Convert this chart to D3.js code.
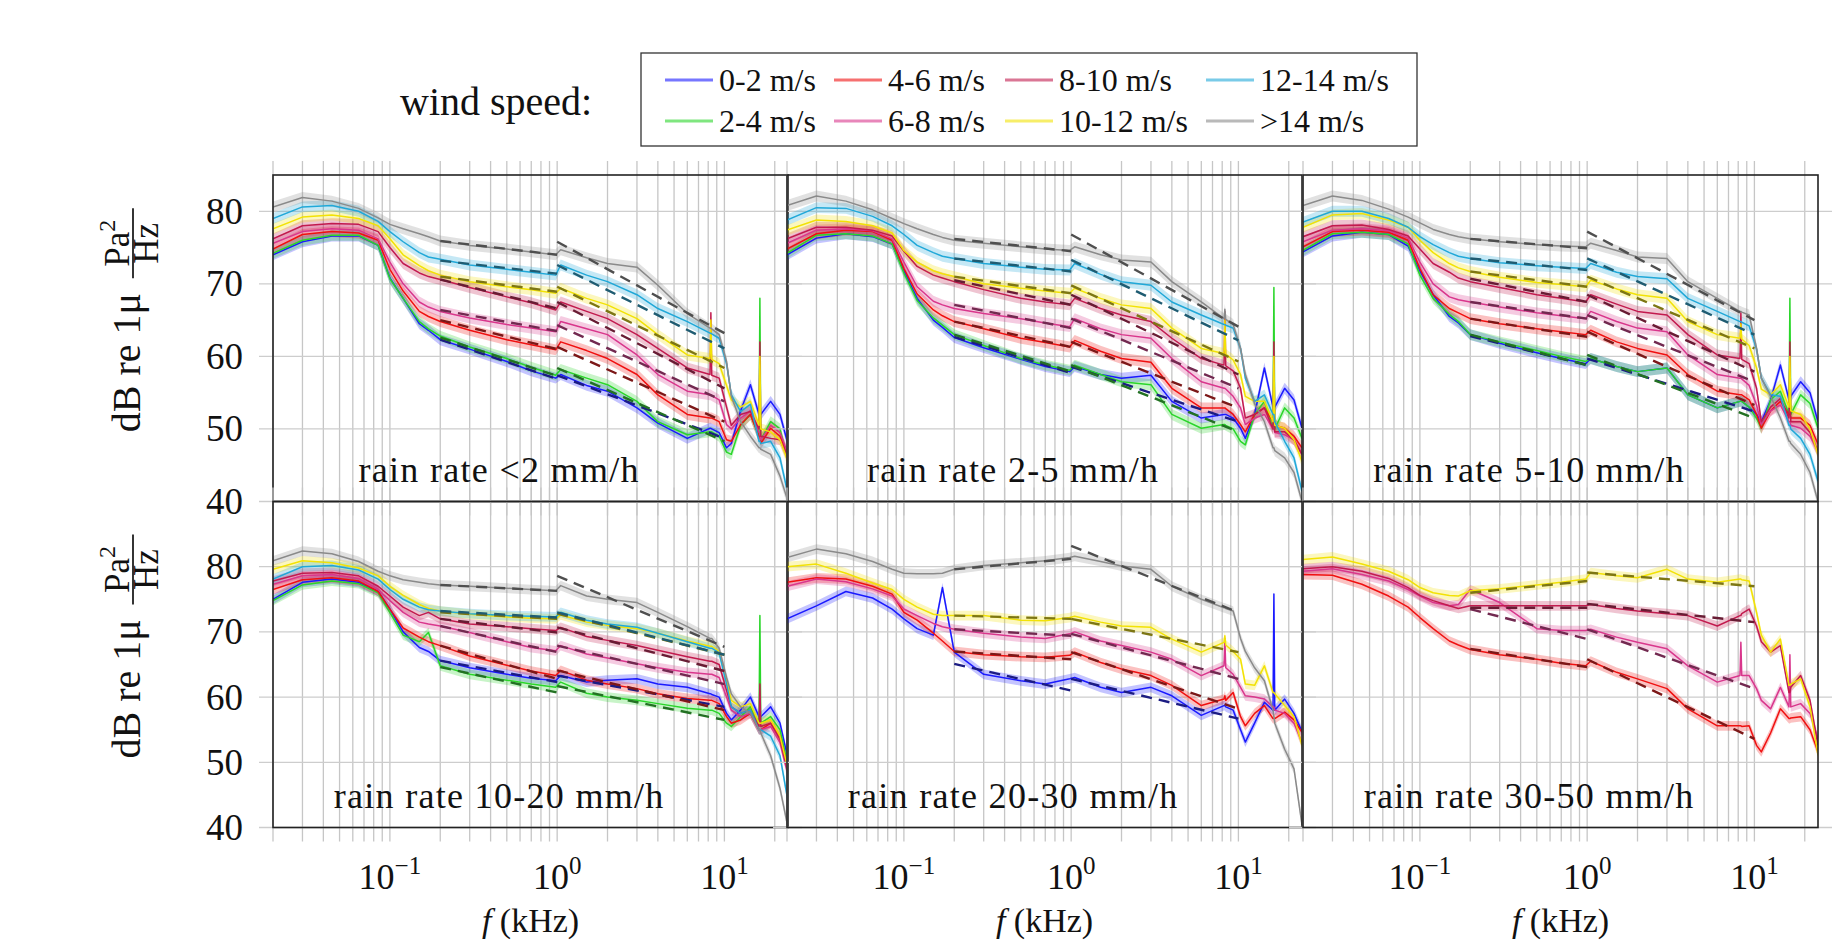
<!DOCTYPE html>
<html>
<head>
<meta charset="utf-8">
<script src="https://cdn.jsdelivr.net/npm/d3@7"></script>
<style>
  body { margin: 0; background: #fff; }
  svg text { font-family: "Liberation Serif", "Times New Roman", serif; fill: #111; }
</style>
</head>
<body>
<svg id="chart" width="1836" height="948" font-family="Liberation Serif, serif"></svg>
<script>
// frequency grid in kHz, shared by every curve
var freqs = [0.02, 0.03, 0.045, 0.065, 0.085, 0.1, 0.12, 0.15, 0.17, 0.2, 0.3, 0.5, 0.7, 0.98, 1.05, 1.5, 2, 3, 4, 6,
             8.2, 8.3, 8.4, 9.3, 10.3, 11, 12.5, 14.3, 16.1, 16.3, 16.5, 18.9, 21.5, 24];

var windLabels = ["0-2 m/s", "2-4 m/s", "4-6 m/s", "6-8 m/s", "8-10 m/s", "10-12 m/s", "12-14 m/s", ">14 m/s"];
var windColors = ["#1a1aff", "#2ad62a", "#f01010", "#d9368c", "#c21a4e", "#f2e205", "#20a8d8", "#8a8a8a"];
var rainLabels = ["rain rate <2 mm/h", "rain rate 2-5 mm/h", "rain rate 5-10 mm/h",
                  "rain rate 10-20 mm/h", "rain rate 20-30 mm/h", "rain rate 30-50 mm/h"];
var yTicks = [40, 50, 60, 70, 80];
var xLabelTicks = [0.1, 1, 10];
var xExponents = ["\u22121", "0", "1"];
var fitRanges = [[0.2, 1], [1, 10]];

// series order follows windLabels; null = no data for that wind class
var rainLt2 = [
  [74.0, 75.8, 76.6, 76.6, 75.3, 70.8, 68.0, 64.5, 63.6, 62.3, 61.0, 59.3, 58.0, 57.0, 57.5, 56.0, 55.2, 52.9, 50.8, 48.7, 50.1, 50.1, 50.0, 49.5, 47.4, 48.0, 52.5, 56.1, 52.0, 52.0, 52.0, 53.8, 52.0, 47.9],
  [74.2, 76.0, 76.7, 76.7, 75.3, 70.7, 68.0, 64.8, 63.8, 62.8, 61.3, 59.7, 58.5, 57.4, 58.2, 57.0, 56.1, 53.8, 51.0, 49.2, 49.6, 49.6, 49.6, 49.0, 46.8, 46.5, 50.5, 52.0, 49.0, 68.0, 48.5, 51.0, 50.0, 45.5],
  [74.8, 76.8, 77.2, 77.0, 76.0, 72.0, 69.0, 66.2, 65.5, 64.8, 63.6, 62.3, 61.6, 60.9, 62.0, 60.8, 59.7, 57.5, 54.7, 52.0, 51.5, 51.5, 51.5, 51.0, 48.5, 48.3, 50.6, 52.0, 49.0, 49.0, 48.0, 50.1, 49.0, 46.5],
  [75.6, 77.2, 77.6, 77.4, 76.2, 73.0, 70.0, 67.5, 66.8, 66.2, 65.3, 64.4, 63.9, 63.4, 64.8, 63.8, 63.0, 60.2, 57.5, 55.2, 54.7, 54.7, 54.6, 54.0, 50.6, 50.0, 51.5, 52.5, 49.5, 49.5, 48.5, 50.5, 49.5, 46.5],
  [76.2, 78.0, 78.3, 78.2, 77.2, 75.0, 72.8, 71.5, 71.0, 70.6, 69.5, 68.2, 67.4, 66.4, 67.5, 66.2, 65.2, 63.0, 61.1, 58.4, 57.5, 66.0, 57.4, 57.0, 53.0, 50.5, 52.0, 52.4, 50.0, 62.0, 49.0, 48.7, 48.5, 46.0],
  [77.6, 79.2, 79.5, 79.0, 78.0, 76.2, 74.0, 72.5, 71.8, 71.2, 70.3, 69.6, 69.2, 68.7, 69.4, 68.0, 67.1, 65.2, 63.0, 60.2, 59.7, 65.0, 59.6, 59.0, 56.0, 54.0, 53.0, 53.8, 50.5, 60.0, 50.0, 49.6, 48.5, 45.5],
  [79.0, 80.6, 80.8, 80.0, 78.6, 77.2, 75.8, 74.3, 73.7, 73.4, 72.6, 72.0, 71.6, 71.2, 72.6, 71.2, 70.3, 68.5, 66.6, 64.8, 63.2, 63.2, 63.1, 62.5, 59.0, 54.7, 52.4, 53.4, 48.3, 48.3, 48.0, 48.3, 46.0, 41.0],
  [80.6, 81.9, 81.4, 80.4, 79.1, 78.2, 77.6, 76.9, 76.5, 75.9, 75.3, 74.8, 74.4, 74.0, 74.7, 73.6, 72.8, 72.3, 69.8, 65.9, 63.9, 63.9, 63.8, 63.0, 59.3, 54.5, 51.0, 49.0, 47.4, 47.4, 47.2, 46.5, 43.5, 40.0]
];
var fitLoLt2 = [[62.3, 56.9], [62.6, 57.3], [65.0, 61.0], [66.4, 63.5], [70.6, 66.6], [71.0, 68.9], [73.2, 71.4], [75.9, 74.0]];
var fitHiLt2 = [[57.4, 48.7], [58.4, 48.3], [61.3, 51.0], [64.3, 53.8], [67.5, 55.6], [69.6, 58.4], [72.6, 61.1], [75.8, 63.2]];

var rain2to5 = [
  [74.0, 76.3, 76.9, 76.5, 75.5, 71.8, 68.0, 65.0, 64.0, 62.6, 61.2, 59.6, 58.6, 57.9, 58.6, 57.5, 57.0, 57.4, 53.8, 51.5, 52.0, 52.0, 52.0, 51.5, 50.1, 48.7, 52.0, 58.4, 53.0, 53.0, 53.0, 55.6, 54.0, 50.1],
  [74.2, 76.7, 76.9, 76.6, 75.5, 71.5, 67.7, 65.3, 64.3, 63.0, 61.5, 59.7, 58.8, 58.1, 58.8, 57.5, 56.5, 56.1, 52.0, 50.1, 50.6, 50.6, 50.5, 50.0, 48.3, 47.8, 52.0, 53.8, 50.0, 69.5, 50.0, 52.9, 51.5, 48.7],
  [74.8, 76.9, 77.4, 77.2, 76.0, 72.1, 68.6, 66.4, 65.6, 64.8, 63.8, 62.5, 61.9, 61.3, 62.2, 60.7, 59.7, 59.2, 55.6, 52.9, 52.9, 52.9, 52.8, 52.0, 50.6, 49.6, 52.0, 52.9, 51.0, 51.0, 50.5, 50.1, 49.0, 47.4],
  [75.6, 77.4, 77.6, 77.3, 76.2, 73.0, 69.6, 67.6, 67.1, 66.6, 65.9, 65.2, 64.6, 64.1, 65.2, 63.8, 63.0, 62.5, 59.7, 56.5, 55.6, 55.6, 55.5, 54.5, 52.9, 50.6, 51.5, 52.0, 50.0, 50.0, 49.5, 49.2, 48.5, 46.5],
  [76.2, 77.8, 77.8, 77.4, 76.6, 74.5, 72.4, 71.2, 70.8, 70.3, 69.2, 68.0, 67.5, 67.1, 68.0, 66.6, 65.7, 64.8, 62.5, 59.7, 58.8, 66.2, 58.7, 58.0, 55.6, 51.5, 52.0, 52.9, 50.0, 62.0, 49.6, 49.6, 48.5, 46.5],
  [77.4, 78.8, 78.6, 78.0, 77.0, 74.6, 73.0, 71.8, 71.4, 71.0, 70.0, 69.4, 69.0, 68.7, 69.4, 68.0, 67.1, 66.6, 63.9, 61.1, 60.4, 65.0, 60.3, 59.5, 57.5, 54.5, 53.8, 53.8, 51.0, 60.0, 50.5, 50.1, 48.5, 45.5],
  [78.8, 80.5, 80.4, 79.3, 78.0, 76.8, 75.3, 74.3, 73.8, 73.5, 72.8, 72.3, 72.0, 71.9, 72.8, 71.3, 70.3, 69.8, 67.5, 65.7, 64.4, 64.4, 64.3, 63.9, 61.1, 57.0, 53.8, 54.7, 52.0, 52.0, 51.0, 48.3, 46.0, 41.4],
  [80.8, 82.1, 81.4, 80.2, 79.0, 78.3, 77.6, 76.8, 76.4, 76.0, 75.6, 75.1, 74.8, 74.6, 75.1, 74.0, 73.3, 73.0, 70.3, 67.5, 65.2, 66.5, 65.1, 64.4, 61.1, 57.5, 53.5, 51.0, 47.4, 47.4, 47.0, 46.0, 44.0, 40.0]
];
var fitLo2to5 = [[62.7, 57.7], [63.0, 57.9], [64.8, 61.3], [67.1, 63.9], [70.5, 67.1], [71.0, 68.7], [73.5, 71.7], [76.2, 74.5]];
var fitHi2to5 = [[58.6, 51.0], [58.8, 49.6], [62.0, 52.9], [65.2, 55.6], [68.5, 57.5], [69.8, 59.3], [73.3, 62.2], [76.8, 64.1]];

var rain5to10 = [
  [74.4, 76.6, 77.1, 76.8, 75.2, 71.8, 68.5, 65.5, 64.6, 63.0, 61.8, 60.5, 59.7, 59.0, 59.7, 58.6, 57.9, 58.4, 54.7, 52.9, 53.8, 53.8, 53.8, 53.0, 52.0, 51.0, 54.0, 58.8, 54.0, 54.0, 54.5, 56.5, 55.0, 51.0],
  [74.6, 76.9, 77.1, 76.8, 75.5, 71.2, 68.0, 65.8, 64.8, 63.0, 62.0, 60.8, 60.0, 59.3, 59.7, 58.6, 57.9, 58.4, 54.7, 52.9, 53.8, 53.8, 53.8, 53.0, 51.5, 50.1, 54.0, 55.2, 52.0, 68.0, 52.0, 54.7, 53.5, 50.1],
  [75.1, 77.2, 77.4, 77.1, 76.0, 72.1, 68.5, 66.6, 66.0, 65.2, 64.5, 63.8, 63.4, 63.0, 63.6, 62.0, 61.1, 60.2, 57.5, 55.2, 54.7, 54.7, 54.7, 54.0, 52.0, 50.1, 52.5, 53.8, 52.0, 52.0, 51.5, 51.5, 50.5, 47.9],
  [75.8, 77.4, 77.6, 77.3, 76.3, 73.0, 70.0, 68.2, 67.8, 67.5, 66.8, 66.0, 65.6, 65.2, 66.2, 64.8, 63.9, 63.4, 60.2, 57.5, 57.0, 57.0, 56.9, 56.0, 53.3, 50.6, 52.5, 53.3, 51.0, 51.0, 50.5, 50.1, 49.0, 46.9],
  [76.5, 78.0, 78.1, 77.5, 76.6, 74.8, 72.8, 71.6, 70.8, 70.3, 69.5, 68.5, 68.0, 67.5, 68.5, 67.2, 66.2, 65.7, 63.0, 60.2, 59.7, 66.0, 59.6, 59.0, 55.6, 51.0, 53.0, 54.2, 51.5, 62.0, 51.0, 51.0, 49.5, 46.9],
  [77.8, 79.5, 79.7, 78.8, 77.8, 76.0, 74.3, 72.8, 72.2, 71.7, 70.9, 70.2, 69.9, 69.6, 70.5, 69.3, 68.5, 68.0, 64.8, 63.0, 62.5, 64.5, 62.4, 61.5, 58.4, 55.5, 54.7, 56.1, 53.0, 60.0, 52.5, 52.0, 50.0, 46.5],
  [78.5, 80.0, 80.0, 79.0, 77.8, 76.5, 75.4, 74.3, 73.8, 73.5, 72.9, 72.5, 72.3, 72.1, 72.8, 71.6, 71.0, 70.7, 68.0, 66.2, 64.8, 64.8, 64.7, 64.2, 61.0, 57.0, 54.7, 54.5, 50.5, 50.5, 50.0, 48.7, 46.5, 42.8],
  [80.8, 82.1, 81.5, 80.3, 79.2, 78.4, 77.5, 76.8, 76.5, 76.2, 75.8, 75.4, 75.2, 75.1, 75.6, 74.6, 73.7, 73.5, 70.3, 68.0, 66.2, 66.2, 66.1, 65.7, 61.1, 57.0, 54.5, 51.5, 48.3, 48.3, 48.0, 46.5, 44.0, 40.0]
];
var fitLo5to10 = [[62.8, 58.8], [63.0, 58.8], [65.2, 62.7], [67.5, 65.2], [70.7, 67.5], [71.7, 69.6], [73.5, 71.9], [76.2, 74.9]];
var fitHi5to10 = [[59.7, 52.4], [60.2, 51.5], [63.4, 53.3], [65.7, 56.5], [68.5, 57.9], [71.0, 61.1], [73.5, 63.0], [77.2, 65.0]];

var rain10to20 = [
  [75.0, 77.6, 78.1, 77.6, 76.2, 73.5, 70.0, 67.6, 67.0, 65.6, 64.5, 63.5, 62.9, 62.5, 63.3, 62.3, 62.6, 62.8, 62.0, 61.5, 60.5, 60.5, 60.4, 60.0, 57.5, 56.5, 58.0, 60.0, 57.0, 57.0, 57.0, 58.5, 56.0, 50.5],
  [74.8, 77.2, 77.8, 77.4, 76.0, 73.0, 69.5, 68.5, 69.9, 64.8, 63.5, 62.6, 62.0, 61.5, 62.3, 60.6, 60.0, 59.5, 59.0, 58.3, 58.0, 58.0, 58.0, 57.5, 56.0, 55.5, 57.0, 58.5, 56.0, 72.5, 56.0, 57.0, 55.0, 49.5],
  [76.5, 78.0, 78.3, 77.8, 76.2, 73.5, 70.6, 69.2, 68.5, 67.9, 66.3, 64.9, 64.0, 63.3, 64.1, 62.6, 62.0, 61.3, 60.5, 59.8, 59.5, 59.5, 59.5, 59.0, 57.0, 56.0, 56.5, 57.5, 55.0, 55.0, 55.0, 56.0, 54.0, 49.0],
  [77.3, 78.6, 78.8, 78.2, 76.5, 74.8, 73.0, 71.5, 71.2, 70.9, 69.9, 68.5, 67.6, 67.1, 67.9, 66.6, 66.0, 65.1, 64.5, 63.8, 63.5, 63.5, 63.5, 63.0, 60.0, 58.0, 57.0, 57.5, 55.0, 55.0, 55.0, 55.5, 53.0, 48.0],
  [77.8, 79.0, 79.1, 78.6, 77.0, 75.5, 73.8, 72.5, 73.0, 72.0, 71.2, 70.8, 70.5, 70.2, 70.7, 69.3, 68.7, 67.9, 67.2, 66.2, 65.5, 65.5, 65.5, 65.0, 61.0, 58.5, 57.5, 58.0, 55.5, 62.0, 55.5, 56.0, 53.5, 48.5],
  [79.6, 80.9, 80.6, 79.8, 78.6, 77.0, 75.6, 74.2, 73.6, 73.2, 72.7, 72.3, 72.1, 72.0, 72.6, 71.5, 71.0, 70.5, 69.8, 68.6, 67.8, 67.8, 67.8, 67.0, 62.5, 59.5, 58.5, 59.0, 56.0, 56.0, 56.0, 56.5, 54.0, 49.0],
  [78.1, 80.0, 80.2, 79.5, 78.1, 76.5, 75.0, 73.8, 73.4, 73.2, 72.8, 72.5, 72.4, 72.3, 73.0, 71.8, 71.2, 70.7, 69.8, 68.5, 67.5, 67.5, 67.5, 66.8, 62.0, 58.5, 57.5, 58.0, 55.0, 55.0, 55.0, 54.0, 51.0, 44.0],
  [80.9, 82.4, 82.0, 80.8, 79.3, 78.6, 78.0, 77.6, 77.4, 77.2, 77.0, 76.7, 76.5, 76.3, 77.1, 75.5, 75.0, 74.5, 73.0, 70.8, 69.0, 69.0, 69.0, 67.5, 63.0, 60.5, 58.5, 57.5, 55.0, 55.0, 54.5, 51.0, 46.0, 40.0]
];
var fitLo10to20 = [[65.6, 62.3], [64.6, 60.7], [67.9, 62.8], [70.9, 66.9], [72.0, 69.9], [73.0, 72.0], [73.2, 72.2], [77.2, 76.3]];
var fitHi10to20 = [[63.3, 58.5], [61.7, 56.5], [64.1, 58.0], [67.9, 62.0], [70.7, 64.0], [72.8, 66.5], [73.0, 66.5], [78.6, 67.7]];

var rain20to30 = [
  [72.0, 74.0, 76.2, 75.2, 73.5, 72.0, 70.5, 69.5, 76.8, 66.9, 63.5, 62.5, 62.0, 62.8, 63.0, 61.5, 60.7, 61.5, 60.2, 57.2, 58.7, 58.7, 58.5, 58.0, 55.0, 53.1, 56.0, 59.2, 58.0, 75.8, 58.0, 59.7, 57.5, 54.7],
  null,
  [77.6, 78.3, 78.1, 77.0, 75.8, 73.0, 71.8, 69.8, 68.6, 67.0, 66.5, 66.2, 66.1, 66.4, 66.9, 65.3, 64.3, 63.3, 61.8, 58.7, 59.7, 60.2, 59.5, 60.7, 57.0, 55.6, 57.5, 58.7, 56.7, 56.7, 56.7, 57.7, 56.5, 54.6],
  [77.0, 78.1, 77.7, 76.6, 75.5, 73.5, 72.5, 71.3, 70.8, 70.4, 69.8, 69.2, 69.0, 69.7, 70.0, 68.6, 67.9, 66.9, 65.8, 63.3, 64.8, 69.0, 64.5, 63.5, 61.5, 60.2, 60.0, 59.7, 58.5, 58.5, 58.0, 57.5, 56.0, 53.0],
  null,
  [80.0, 80.4, 79.0, 77.5, 76.5, 75.0, 73.8, 72.7, 72.5, 72.5, 72.5, 71.8, 71.7, 72.2, 72.4, 71.5, 70.9, 70.7, 68.9, 66.9, 68.4, 69.4, 68.0, 67.0, 65.8, 62.0, 61.8, 64.8, 60.7, 60.7, 60.5, 58.7, 57.0, 52.6],
  null,
  [81.4, 82.7, 82.0, 80.8, 79.6, 79.0, 78.9, 78.9, 79.0, 79.6, 80.2, 80.6, 80.9, 81.4, 81.6, 80.8, 80.1, 79.6, 77.0, 75.0, 73.7, 73.7, 73.6, 73.2, 69.0, 67.0, 64.5, 62.5, 58.0, 57.0, 56.0, 52.0, 49.0, 40.4]
];
var fitLo20to30 = [[65.1, 61.0], null, [67.0, 65.8], [70.4, 69.4], null, [72.5, 72.0], null, [79.6, 81.2]];
var fitHi20to30 = [[62.8, 56.7], null, [66.9, 58.2], [69.7, 62.8], null, [72.0, 66.9], null, [83.2, 73.0]];

var rain30to50 = [
  null,
  null,
  [78.8, 78.7, 77.3, 75.5, 73.8, 72.2, 70.5, 68.6, 68.0, 67.3, 66.5, 65.8, 65.2, 64.8, 65.5, 63.8, 62.8, 61.3, 58.2, 55.6, 55.6, 55.6, 55.5, 55.6, 52.6, 51.6, 54.5, 58.2, 56.7, 56.7, 56.8, 57.0, 55.0, 51.6],
  [79.3, 79.7, 78.8, 77.8, 76.5, 75.5, 74.5, 74.0, 74.2, 76.5, 74.5, 70.5, 70.2, 70.2, 70.4, 69.2, 68.4, 67.4, 64.8, 62.3, 63.3, 68.4, 63.3, 63.3, 61.3, 59.5, 58.2, 61.5, 58.5, 66.5, 58.5, 59.0, 57.5, 53.6],
  [79.7, 80.0, 79.3, 78.2, 76.8, 75.6, 74.8, 74.0, 73.6, 74.0, 74.0, 74.0, 74.0, 74.0, 74.2, 73.6, 73.2, 72.8, 72.5, 70.9, 72.5, 72.5, 72.8, 73.5, 70.9, 68.5, 66.9, 67.9, 60.7, 60.7, 61.5, 63.3, 59.5, 52.6],
  [81.1, 81.5, 80.4, 79.3, 78.0, 76.8, 76.0, 75.6, 75.5, 76.3, 76.6, 77.2, 77.6, 78.1, 79.1, 78.6, 78.3, 79.6, 78.1, 77.6, 78.1, 78.1, 78.0, 77.8, 73.0, 69.5, 66.9, 68.9, 61.8, 61.8, 62.0, 62.8, 58.5, 51.1],
  null,
  null
];
var fitLo30to50 = [null, null, [67.4, 64.6], [73.5, 68.9], [73.7, 73.7], [76.0, 77.8], null, null];
var fitHi30to50 = [null, null, [65.8, 53.6], [70.4, 61.3], [74.3, 71.5], [79.1, 77.0], null, null];

// layout
var colLeft = [273, 787, 1303], panelWidth = 515;
var rowTop = [175, 501.5], rowHeight = [326.5, 326];
var yDomains = [[40, 85], [40, 90]];
var xDomain = [0.02, 24];
var bandHalf = 0.75;

var svg = d3.select("#chart");

var panels = [
  { series: rainLt2,    lo: fitLoLt2,    hi: fitHiLt2,    row: 0, col: 0 },
  { series: rain2to5,   lo: fitLo2to5,   hi: fitHi2to5,   row: 0, col: 1 },
  { series: rain5to10,  lo: fitLo5to10,  hi: fitHi5to10,  row: 0, col: 2 },
  { series: rain10to20, lo: fitLo10to20, hi: fitHi10to20, row: 1, col: 0 },
  { series: rain20to30, lo: fitLo20to30, hi: fitHi20to30, row: 1, col: 1 },
  { series: rain30to50, lo: fitLo30to50, hi: fitHi30to50, row: 1, col: 2 }
];

function drawPanel(p, idx) {
  var left = colLeft[p.col], top = rowTop[p.row], h = rowHeight[p.row];
  var x = d3.scaleLog().domain(xDomain).range([0, panelWidth]);
  var y = d3.scaleLinear().domain(yDomains[p.row]).range([h, 0]);
  var g = svg.append("g").attr("transform", "translate(" + left + "," + top + ")");

  // grid, sticking out a bit past the frame like the original
  g.append("g").selectAll("line").data(x.ticks()).enter().append("line")
    .attr("x1", function(d) { return x(d); })
    .attr("x2", function(d) { return x(d); })
    .attr("y1", -14).attr("y2", h + 14)
    .attr("stroke", "#c6c6c6").attr("stroke-width", 1.3);
  g.append("g").selectAll("line").data(yTicks).enter().append("line")
    .attr("x1", -14).attr("x2", panelWidth + 14)
    .attr("y1", function(d) { return y(d); })
    .attr("y2", function(d) { return y(d); })
    .attr("stroke", "#cdcdcd").attr("stroke-width", 1.3);

  var clipId = "clip" + idx;
  g.append("clipPath").attr("id", clipId).append("rect")
    .attr("x", 0).attr("y", 0).attr("width", panelWidth).attr("height", h);
  var cg = g.append("g").attr("clip-path", "url(#" + clipId + ")");

  var band = d3.area()
    .x(function(d) { return x(d.f); })
    .y0(function(d) { return y(d.v - bandHalf); })
    .y1(function(d) { return y(d.v + bandHalf); });
  var line = d3.line()
    .x(function(d) { return x(d.f); })
    .y(function(d) { return y(d.v); });

  var curves = [];
  p.series.forEach(function(vals, k) {
    if (!vals) return;
    curves.push({ k: k, pts: freqs.map(function(f, j) { return { f: f, v: vals[j] }; }) });
  });

  cg.selectAll(".band").data(curves).enter().append("path")
    .attr("class", "band")
    .attr("d", function(c) { return band(c.pts); })
    .attr("fill", function(c) { return windColors[c.k]; })
    .attr("fill-opacity", 0.26);

  cg.selectAll(".curve").data(curves).enter().append("path")
    .attr("class", "curve")
    .attr("d", function(c) { return line(c.pts); })
    .attr("fill", "none")
    .attr("stroke", function(c) { return windColors[c.k]; })
    .attr("stroke-width", 1.5)
    .attr("stroke-linejoin", "round");

  // dashed fits over the two frequency bands
  [p.lo, p.hi].forEach(function(fits, r) {
    fits.forEach(function(fv, k) {
      if (!fv) return;
      cg.append("path")
        .datum([{ f: fitRanges[r][0], v: fv[0] }, { f: fitRanges[r][1], v: fv[1] }])
        .attr("d", line)
        .attr("fill", "none")
        .attr("stroke", d3.interpolateRgb(windColors[k], "#1e1e1e")(0.55))
        .attr("stroke-width", 2.4)
        .attr("stroke-dasharray", "11,7");
    });
  });

  g.append("rect")
    .attr("x", 0).attr("y", 0).attr("width", panelWidth).attr("height", h)
    .attr("fill", "none").attr("stroke", "#222").attr("stroke-width", 1.6);

  g.append("text")
    .attr("x", x(0.45)).attr("y", h - 20)
    .attr("text-anchor", "middle")
    .style("font-size", "36px")
    .style("letter-spacing", "1.3px")
    .text(rainLabels[idx]);

  if (p.col === 0) {
    g.append("g").selectAll("text").data(yTicks).enter().append("text")
      .attr("x", -30)
      .attr("y", function(d) { return y(d); })
      .attr("text-anchor", "end")
      .attr("dominant-baseline", "central")
      .style("font-size", "37px")
      .text(function(d) { return d; });
  }

  if (p.row === 1) {
    var lab = g.append("g").selectAll("text").data(xLabelTicks).enter().append("text")
      .attr("x", function(d) { return x(d); })
      .attr("y", h + 61)
      .attr("text-anchor", "middle")
      .style("font-size", "36px");
    lab.append("tspan").text("10");
    lab.append("tspan")
      .attr("dy", -15)
      .style("font-size", "25px")
      .text(function(d, i) { return xExponents[i]; });

    var xt = g.append("text")
      .attr("x", panelWidth / 2).attr("y", h + 104)
      .attr("text-anchor", "middle")
      .style("font-size", "34px");
    xt.append("tspan").style("font-style", "italic").text("f");
    xt.append("tspan").text(" (kHz)");
  }
}

panels.forEach(drawPanel);

// y axis titles: "dB re 1μ" followed by the fraction Pa²/Hz, read bottom to top
function yTitle(cy) {
  var t = svg.append("g").attr("transform", "translate(128," + cy + ") rotate(-90)");
  t.append("text").attr("x", -94).attr("y", 12).style("font-size", "40px").text("dB re 1\u03bc");
  var num = t.append("text").attr("x", 95).attr("y", 1).attr("text-anchor", "middle").style("font-size", "35px");
  num.append("tspan").text("Pa");
  num.append("tspan").attr("dy", -14).style("font-size", "24px").text("2");
  t.append("line").attr("x1", 60).attr("x2", 130).attr("y1", 5).attr("y2", 5)
    .attr("stroke", "#111").attr("stroke-width", 1.7);
  t.append("text").attr("x", 95).attr("y", 30).attr("text-anchor", "middle").style("font-size", "35px").text("Hz");
}
yTitle(rowTop[0] + rowHeight[0] / 2);
yTitle(rowTop[1] + rowHeight[1] / 2);

// legend
var legendX = [665, 834, 1005, 1206], legendY = [80, 121];
svg.append("text").attr("x", 400).attr("y", 101)
  .attr("dominant-baseline", "central")
  .style("font-size", "40px").text("wind speed:");
svg.append("rect").attr("x", 641).attr("y", 53).attr("width", 776).attr("height", 93)
  .attr("fill", "#fff").attr("stroke", "#333").attr("stroke-width", 1.3);
var items = svg.append("g").selectAll("g").data(windLabels).enter().append("g")
  .attr("transform", function(d, i) {
    return "translate(" + legendX[Math.floor(i / 2)] + "," + legendY[i % 2] + ")";
  });
items.append("line").attr("x1", 0).attr("x2", 48).attr("y1", 0).attr("y2", 0)
  .attr("stroke", function(d, i) { return windColors[i]; })
  .attr("stroke-opacity", 0.6).attr("stroke-width", 3);
items.append("text").attr("x", 54).attr("y", 0)
  .attr("dominant-baseline", "central")
  .style("font-size", "32px")
  .text(function(d) { return d; });
</script>
</body>
</html>
